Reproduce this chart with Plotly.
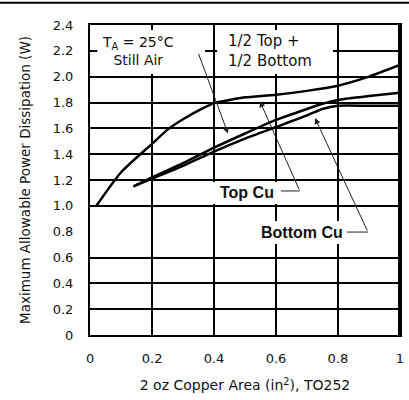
import plotly.graph_objects as go

# ---- data ----
x_half = [0.02, 0.1, 0.2, 0.25, 0.3, 0.36, 0.4, 0.45, 0.5, 0.6, 0.7, 0.8, 0.9, 1.0]
y_half = [1.00, 1.26, 1.48, 1.59, 1.67, 1.75, 1.795, 1.82, 1.84, 1.86, 1.89, 1.93, 2.00, 2.09]

x_top = [0.14, 0.2, 0.3, 0.4, 0.5, 0.6, 0.7, 0.75, 0.8, 0.9, 1.0]
y_top = [1.15, 1.22, 1.33, 1.45, 1.56, 1.665, 1.75, 1.79, 1.82, 1.85, 1.875]

x_bot = [0.14, 0.2, 0.3, 0.4, 0.5, 0.6, 0.7, 0.75, 0.8, 0.9, 1.0]
y_bot = [1.15, 1.21, 1.31, 1.42, 1.52, 1.61, 1.70, 1.75, 1.775, 1.775, 1.775]

x_ticks = [0, 0.2, 0.4, 0.6, 0.8, 1.0]
x_ticktext = ["0", "0.2", "0.4", "0.6", "0.8", "1"]
y_ticks = [0, 0.2, 0.4, 0.6, 0.8, 1.0, 1.2, 1.4, 1.6, 1.8, 2.0, 2.2, 2.4]
y_ticktext = ["0", "0.2", "0.4", "0.6", "0.8", "1.0", "1.2", "1.4", "1.6", "1.8", "2.0", "2.2", "2.4"]
y_grid = [0.2, 0.4, 0.6, 1.0, 1.2, 1.4, 1.6, 1.8, 2.0, 2.2]

FONT = "DejaVu Sans"
INK = "#111111"

fig = go.Figure()
for xs, ys, name in [(x_half, y_half, "1/2 Top + 1/2 Bottom"),
                     (x_top, y_top, "Top Cu"),
                     (x_bot, y_bot, "Bottom Cu")]:
    fig.add_trace(go.Scatter(x=xs, y=ys, mode="lines", name=name,
                             line=dict(color="black", width=2.5, shape="spline", smoothing=0.6)))
# dummy trace for grid axis
fig.add_trace(go.Scatter(x=[0], y=[0], yaxis="y2", mode="markers",
                         marker=dict(opacity=0), hoverinfo="skip", showlegend=False))

fig.update_layout(
    width=409, height=400,
    margin=dict(l=90, r=9, t=25, b=65),
    paper_bgcolor="white", plot_bgcolor="white",
    showlegend=False,
    font=dict(family=FONT, size=13, color=INK),
    xaxis=dict(range=[-0.0005, 1.0005], tickvals=x_ticks, ticktext=x_ticktext,
               showgrid=True, gridcolor="black", gridwidth=2,
               showline=True, linecolor="black", linewidth=2, mirror=True,
               zeroline=False, ticks="", ticklabelstandoff=10, automargin=False,
               title=dict(text="2 oz Copper Area (in<sup>2</sup>), TO252",
                          font=dict(family=FONT, size=14, color=INK), standoff=16)),
    yaxis=dict(range=[0, 2.4], tickvals=y_ticks, ticktext=y_ticktext,
               showgrid=False, showline=True, linecolor="black", linewidth=2, mirror=True,
               zeroline=False, ticks="", ticklabelstandoff=12, automargin=False,
               title=dict(text="Maximum Allowable Power Dissipation (W)",
                          font=dict(family=FONT, size=13.5, color=INK), standoff=19)),
    yaxis2=dict(range=[0, 2.4], overlaying="y", tickvals=y_grid, showticklabels=False,
                showgrid=True, gridcolor="black", gridwidth=2, zeroline=False,
                showline=False, ticks="", automargin=False),
)

# right frame thicker
fig.add_shape(type="line", xref="paper", yref="paper", x0=1.0, x1=1.0, y0=0, y1=1,
              line=dict(color="black", width=4))
# top rule of the page
fig.add_shape(type="line", xref="paper", yref="paper", x0=-0.3, x1=1.03, y0=1.072, y1=1.072,
              line=dict(color="black", width=2))

# white label boxes (cover gridlines) and texts
def box(x0, x1, y0, y1):
    fig.add_shape(type="rect", xref="x", yref="y", x0=x0, x1=x1, y0=y0, y1=y1,
                  fillcolor="white", line=dict(width=0), layer="above")

def text(t, x, y, size, bold=False, xanchor="center"):
    fig.add_annotation(x=x, y=y, xref="x", yref="y", text=("<b>%s</b>" % t) if bold else t,
                       showarrow=False, xanchor=xanchor, align="left" if xanchor == "left" else "center",
                       font=dict(family="Liberation Sans" if bold else FONT, size=size, color=INK))

box(0.023, 0.371, 2.02, 2.362)
text("T<sub>A</sub> = 25°C<br>Still Air", 0.155, 2.20, 14)
box(0.410, 0.784, 2.02, 2.362)
text("1/2 Top +<br>1/2 Bottom", 0.440, 2.20, 15, xanchor="left")
box(0.377, 0.613, 1.014, 1.184)
text("Top Cu", 0.507, 1.10, 16, bold=True)
box(0.532, 0.826, 0.704, 0.883)
text("Bottom Cu", 0.684, 0.794, 16, bold=True)

# leader lines with arrows
def arrow(xh, yh, xt, yt):
    fig.add_annotation(x=xh, y=yh, ax=xt, ay=yt, xref="x", yref="y", axref="x", ayref="y",
                       text="", showarrow=True, arrowhead=2, arrowsize=1.2, arrowwidth=1,
                       arrowcolor="#222222", standoff=0, startstandoff=0)

arrow(0.445, 1.56, 0.348, 2.19)
arrow(0.548, 1.81, 0.677, 1.115)
arrow(0.726, 1.68, 0.897, 0.797)
fig.add_shape(type="line", xref="x", yref="y", x0=0.616, x1=0.677, y0=1.115, y1=1.115,
              line=dict(color="#222222", width=1), layer="above")
fig.add_shape(type="line", xref="x", yref="y", x0=0.829, x1=0.897, y0=0.797, y1=0.797,
              line=dict(color="#222222", width=1), layer="above")

fig.write_html("out.html", config={"displayModeBar": False},
               post_script="document.body.style.margin='0';")
